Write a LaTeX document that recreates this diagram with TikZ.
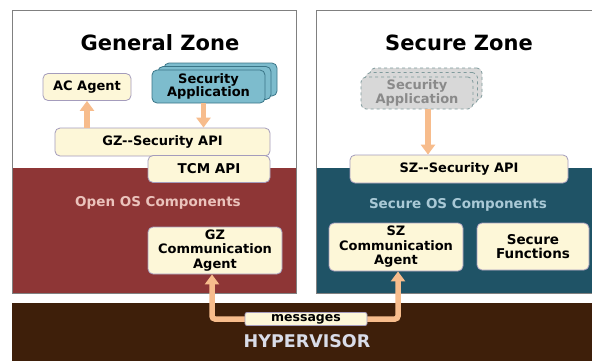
\documentclass[tikz,border=0pt]{standalone}
\usepackage{fontspec}
\setmainfont{DejaVu Sans}
\usetikzlibrary{arrows.meta, shadows}
\definecolor{boxfill}{HTML}{FDF7D8}
\definecolor{boxline}{HTML}{A49CBC}
\definecolor{appfill}{HTML}{7DBCCD}
\definecolor{appline}{HTML}{3A7587}
\definecolor{ghostfill}{HTML}{D8D8D8}
\definecolor{ghostline}{HTML}{7F9A9C}
\definecolor{ghosttext}{HTML}{8A8A8A}
\definecolor{openred}{HTML}{8E3636}
\definecolor{secteal}{HTML}{1F5366}
\definecolor{hyperbrown}{HTML}{3E1F0A}
\definecolor{arrowfill}{HTML}{F7BC8C}
\definecolor{opentext}{HTML}{EBC3BC}
\definecolor{sectext}{HTML}{A9C9D6}
\definecolor{hypertext}{HTML}{D9DCE8}

\begin{document}
\begin{tikzpicture}[
        x=1pt, y=-1pt,
        box/.style={
            rectangle,
            rounded corners=5pt,
            draw=boxline,
            line width=0.8pt,
            fill=boxfill,
            align=center,
            inner sep=1pt,
            font=\fontsize{13}{14.5}\selectfont\bfseries
        },
        zonetitle/.style={font=\fontsize{21}{24}\selectfont\bfseries},
        ostext/.style={font=\fontsize{13.5}{16}\selectfont\bfseries},
        bigarrow/.style={line width=5.5pt, draw=arrowfill, rounded corners=3pt,
            -{Triangle[width=14pt,length=10pt]}}
    ]

    \useasboundingbox (0,0) rectangle (592,360);
    \clip (0,0) rectangle (592,360);

    % Zones
    \draw[gray, line width=0.8pt, fill=white] (12,10) rectangle (296,293);
    \fill[openred] (12,168) rectangle (296,293);
    \draw[gray, line width=0.8pt] (12,10) rectangle (296,293);
    \draw[gray, line width=0.8pt, fill=white] (316,10) rectangle (600,293);
    \fill[secteal] (316,168) rectangle (600,293);
    \draw[gray, line width=0.8pt] (316,10) rectangle (600,293);
    \fill[hyperbrown] (12,303) rectangle (600,370);

    % Titles
    \node[zonetitle] (gztitle) at (160,43) {General Zone};
    \node[zonetitle] (sztitle) at (459,43) {Secure Zone};
    \node[ostext, text=opentext] (openos) at (158,203) {Open OS Components};
    \node[ostext, text=sectext] (secos) at (458,205) {Secure OS Components};
    \node[font=\fontsize{17.5}{20}\selectfont\bfseries, text=hypertext] (hyper) at (307,341) {HYPERVISOR};

    % General Zone
    \node[box, minimum width=88pt, minimum height=27pt] (acagent) at (87,87) {AC Agent};
    \node[box, fill=appfill, draw=appline, minimum width=113pt, minimum height=33pt,
        font=\fontsize{13}{13.5}\selectfont\bfseries,
        copy shadow={shadow xshift=12pt, shadow yshift=7pt, fill=appfill, draw=appline, line width=0.8pt},
        copy shadow={shadow xshift=6pt, shadow yshift=3.5pt, fill=appfill, draw=appline, line width=0.8pt}]
        (secapp) at (208.5,86.5) {Security\\Application};
    \node[box, minimum width=215pt, minimum height=28pt] (gzapi) at (162.5,142) {GZ-{}-Security API};
    \node[box, minimum width=122pt, minimum height=27pt, font=\fontsize{13.5}{15}\selectfont\bfseries] (tcmapi) at (209,169) {TCM API};
    \node[box, minimum width=134pt, minimum height=47pt] (gzcomm) at (215,250.5) {GZ\\Communication\\Agent};

    % Secure Zone
    \node[box, fill=ghostfill, draw=ghostline, dashed, text=ghosttext, minimum width=112pt, minimum height=32pt,
        font=\fontsize{13}{13.5}\selectfont\bfseries,
        copy shadow={shadow xshift=9pt, shadow yshift=9pt, fill=ghostfill, draw=ghostline, dashed, line width=0.8pt},
        copy shadow={shadow xshift=4.5pt, shadow yshift=4.5pt, fill=ghostfill, draw=ghostline, dashed, line width=0.8pt}]
        (ghostapp) at (417,93) {Security\\Application};
    \node[box, minimum width=218pt, minimum height=28pt] (szapi) at (459,169) {SZ-{}-Security API};
    \node[box, minimum width=134pt, minimum height=48pt] (szcomm) at (396,247) {SZ\\Communication\\Agent};
    \node[box, minimum width=112pt, minimum height=47pt, font=\fontsize{13.5}{14.5}\selectfont\bfseries] (secfunc) at (533,246.5) {Secure\\Functions};

    % Arrows
    \draw[bigarrow] (gzapi.north -| acagent.south) -- (acagent.south);
    \draw[bigarrow] ([xshift=-5pt]secapp.south) -- ([xshift=-5pt]secapp.south |- gzapi.north);
    \draw[bigarrow] ([xshift=11pt]ghostapp.south) -- ([xshift=11pt]ghostapp.south |- szapi.north);
    \draw[bigarrow] (306,319) -| ([xshift=-3pt]gzcomm.south);
    \draw[bigarrow] (306,319) -| ([xshift=2pt]szcomm.south);

    % Hypervisor messages
    \node[box, rounded corners=2pt, minimum width=122pt, minimum height=13pt, inner sep=0pt,
        font=\fontsize{12.5}{13}\selectfont\bfseries] (msgs) at (306,319) {messages};

\end{tikzpicture}
\end{document}
